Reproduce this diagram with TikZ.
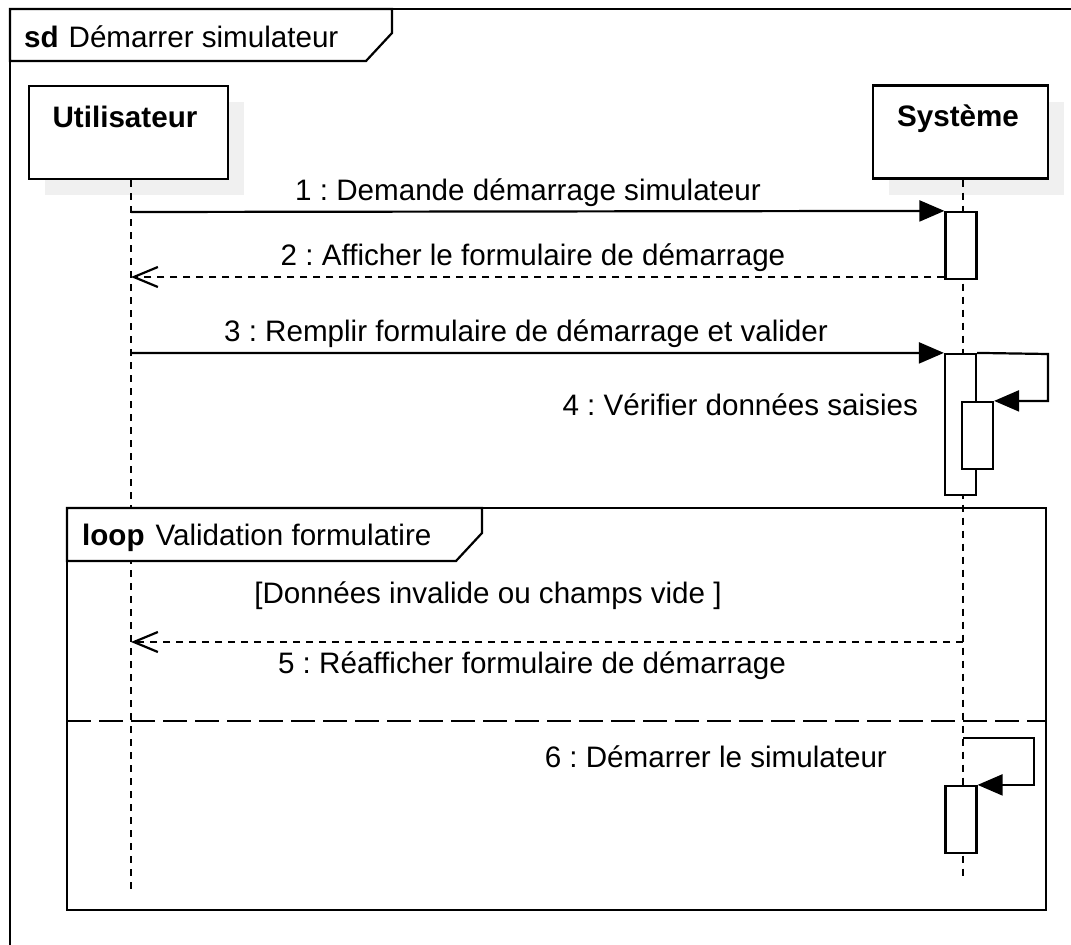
\documentclass[tikz,border=0pt]{standalone}
\usepackage{fontspec}
\setmainfont{Liberation Sans}
\usetikzlibrary{arrows.meta,shadows}
\frenchspacing
\begin{document}
\begin{tikzpicture}[x=1pt,y=-1pt,
  font=\fontsize{29.6pt}{35pt}\selectfont,
  line width=2.2pt,
  head/.style={draw,fill=white,minimum height=93pt,inner sep=0pt,
    drop shadow={shadow xshift=16pt,shadow yshift=-16pt,fill=black!6,opacity=1}},
  actbox/.style={draw,fill=white,minimum width=31pt,inner sep=0pt},
  txt/.style={inner sep=0pt,anchor=base},
  lifeline/.style={line width=2pt,dash pattern=on 7pt off 6pt},
  msg/.style={-{Triangle[length=25pt,width=21pt]}},
  reply/.style={dash pattern=on 7pt off 6pt,-{Straight Barb[length=24pt,width=20pt]}},
  separator/.style={dash pattern=on 24pt off 8pt}]
\useasboundingbox (0,0) rectangle (1071,945);
\clip (0,0) rectangle (1071,945);

% outer frame and its title tab
\draw (10,9) rectangle (1100,1000);
\draw[fill=white] (10,9) -- (392,9) -- (392,33) -- (366,61) -- (10,61) -- cycle;
\node[txt,anchor=base west] (sdlbl) at (23,47) {\textbf{sd}\hspace{10pt}Démarrer simulateur};

% participants
\node[head,minimum width=199pt] (user) at (128.5,132.5) {};
\node[txt] (userlbl) at (125,127) {\textbf{Utilisateur}};
\node[head,minimum width=175pt] (sys) at (960.5,132) {};
\node[txt] (syslbl) at (958,126) {\textbf{Système}};

% lifelines
\coordinate (uend) at (131,890);
\coordinate (send) at (963,880);
\draw[lifeline] (user.south -| uend) -- (uend);
\draw[lifeline] (sys.south -| send) -- (send);

% loop fragment
\draw (67,508) rectangle (1046,910);
\draw[fill=white] (67,508) -- (482,508) -- (482,533) -- (456,561) -- (67,561) -- cycle;
\node[txt,anchor=base west] (looplbl) at (81,545) {\textbf{loop}\hspace{11pt}Validation formulatire};
\coordinate (sepL) at (67,721);
\coordinate (sepR) at (1046,721);
\draw[separator] (sepL) -- (sepR);

% activations
\node[actbox,minimum height=67pt] (act1) at (961,245.5) {};
\node[actbox,minimum height=141pt] (act2) at (960.5,424.5) {};
\node[actbox,minimum height=67pt] (act3) at (977.5,435.5) {};
\node[actbox,minimum height=67pt] (act4) at (961,819.5) {};

% message 1
\coordinate (u1) at (131,212);
\draw[msg] (u1) -- (act1.north west);
\node[txt] (m1) at (528,200) {1 : Demande démarrage simulateur};

% message 2
\coordinate (u2) at (131,277);
\draw[reply] (act1.south west |- u2) -- (u2);
\node[txt] (m2) at (533,265) {2 : Afficher le formulaire de démarrage};

% message 3
\coordinate (u3) at (131,353);
\draw[msg] (u3) -- (act2.north west);
\node[txt] (m3) at (526,341) {3 : Remplir formulaire de démarrage et valider};

% message 4 (self call)
\coordinate (s4) at (1048,354);
\draw[msg] (act2.north east) -- (s4) -- (s4 |- act3.north east) -- (act3.north east);
\node[txt,anchor=base east] (m4) at (919,415) {4 : Vérifier données saisies};

% guard and message 5
\node[txt] (guard) at (488,603) {[Données invalide ou champs vide ]};
\coordinate (s5) at (963,642);
\coordinate (u5) at (131,642);
\draw[reply] (s5) -- (u5);
\node[txt] (m5) at (532,673) {5 : Réafficher formulaire de démarrage};

% message 6 (self call)
\coordinate (s6) at (963,738);
\coordinate (s6r) at (1034,738);
\draw[msg] (s6) -- (s6r) -- (s6r |- act4.north east) -- (act4.north east);
\node[txt,anchor=base east] (m6) at (888,767) {6 : Démarrer le simulateur};
\end{tikzpicture}
\end{document}
